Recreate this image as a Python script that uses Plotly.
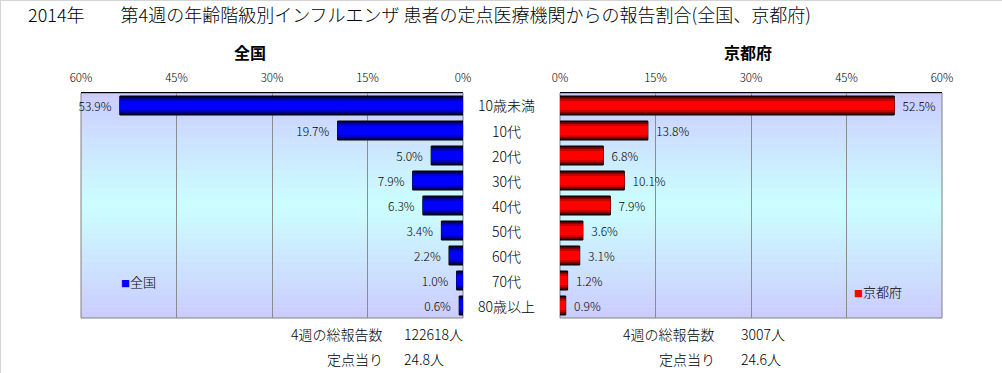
import plotly.graph_objects as go

# ---------------- data ----------------
categories = ["10歳未満", "10代", "20代", "30代", "40代", "50代", "60代", "70代", "80歳以上"]
zenkoku = [53.9, 19.7, 5.0, 7.9, 6.3, 3.4, 2.2, 1.0, 0.6]
kyoto = [52.5, 13.8, 6.8, 10.1, 7.9, 3.6, 3.1, 1.2, 0.9]
tick_vals = [0, 15, 30, 45, 60]
tick_text = ["0%", "15%", "30%", "45%", "60%"]
title_text = "2014年\u3000\u3000第4週の年齢階級別インフルエンザ 患者の定点医療機関からの報告割合(全国、京都府)"
series_names = ["全国", "京都府"]
total_label = "4週の総報告数"
per_label = "定点当り"
zenkoku_total = "122618人"
zenkoku_per = "24.8人"
kyoto_total = "3007人"
kyoto_per = "24.6人"

# ---------------- layout helpers ----------------
W, H = 1002, 373
FONT = "Noto Sans CJK JP"


def px(x):
    return x / W


def py(y):
    return 1 - y / H


L_DOM = [px(81), px(463)]
R_DOM = [px(560), px(942)]
Y_DOM = [py(318), py(93)]

fig = go.Figure()

blue_layers = [(0.76, "#000038"), (0.64, "#000088"), (0.52, "#0000c8"), (0.36, "#0000ff")]
red_layers = [(0.76, "#380000"), (0.64, "#880000"), (0.52, "#c80000"), (0.36, "#ff0000")]

for i, (w, c) in enumerate(blue_layers):
    fig.add_trace(go.Bar(
        y=categories, x=zenkoku, orientation="h", width=w,
        marker=dict(color=c, line=dict(color="black", width=1 if i == 0 else 0)),
        text=[f"{v:.1f}%\u00a0\u00a0" for v in zenkoku] if i == 0 else None,
        textposition="outside" if i == 0 else "none",
        textfont=dict(family=FONT, size=12, color="black", weight=300),
        constraintext="none", cliponaxis=False,
        xaxis="x", yaxis="y", showlegend=False, hoverinfo="skip" if i else "x+y",
        name=series_names[0],
    ))

for i, (w, c) in enumerate(red_layers):
    fig.add_trace(go.Bar(
        y=categories, x=kyoto, orientation="h", width=w,
        marker=dict(color=c, line=dict(color="black", width=1 if i == 0 else 0)),
        text=[f"\u00a0\u00a0{v:.1f}%" for v in kyoto] if i == 0 else None,
        textposition="outside" if i == 0 else "none",
        textfont=dict(family=FONT, size=12, color="black", weight=300),
        constraintext="none", cliponaxis=False,
        xaxis="x2", yaxis="y2", showlegend=False, hoverinfo="skip" if i else "x+y",
        name=series_names[1],
    ))

# ---------------- background gradients (styling) ----------------
shapes = []
top_c = (204, 204, 255)
mid_c = (204, 255, 255)
N = 40
for xr, yr in (("x domain", "y domain"), ("x2 domain", "y2 domain")):
    for k in range(N):
        t = (k + 0.5) / N
        f = 1 - abs(t - 0.5) * 2  # 0 at edges, 1 in middle
        col = tuple(round(top_c[j] + (mid_c[j] - top_c[j]) * f) for j in range(3))
        shapes.append(dict(type="rect", xref=xr, yref=yr, x0=0, x1=1,
                           y0=1 - (k + 1) / N, y1=1 - k / N + 0.002,
                           fillcolor=f"rgb{col}", line=dict(width=0), layer="below"))
    shapes.append(dict(type="rect", xref=xr, yref=yr, x0=0, x1=1, y0=0, y1=1,
                       fillcolor="rgba(0,0,0,0)", line=dict(color="#808080", width=1),
                       layer="below"))

# outer frame lines (top and left)
shapes.append(dict(type="line", xref="paper", yref="paper", x0=0, x1=1, y0=1, y1=1,
                   line=dict(color="#d4d4d4", width=2)))
shapes.append(dict(type="line", xref="paper", yref="paper", x0=0, x1=0, y0=0, y1=1,
                   line=dict(color="#d4d4d4", width=2)))

# ---------------- annotations ----------------
ann = []
ann.append(dict(text=title_text, xref="paper", yref="paper", x=px(26), y=py(14),
                xanchor="left", yanchor="middle", showarrow=False,
                font=dict(family=FONT, size=18, color="black", weight=300)))
ann.append(dict(text="<b>全国</b>", xref="paper", yref="paper", x=px(250), y=py(52),
                xanchor="center", yanchor="middle", showarrow=False,
                font=dict(family=FONT, size=16, color="black")))
ann.append(dict(text="<b>京都府</b>", xref="paper", yref="paper", x=px(748), y=py(52),
                xanchor="center", yanchor="middle", showarrow=False,
                font=dict(family=FONT, size=16, color="black")))
for c in categories:
    ann.append(dict(text=c, xref="paper", yref="y", x=px(506), y=c,
                    xanchor="center", yanchor="middle", showarrow=False,
                    font=dict(family=FONT, size=14, color="black", weight=300)))

# legend-like labels
ann.append(dict(text="<span style='color:#0000ff;font-size:9px'>■</span>全国",
                xref="paper", yref="paper", x=px(119), y=py(281),
                xanchor="left", yanchor="middle", showarrow=False,
                font=dict(family=FONT, size=13, color="black", weight=300)))
ann.append(dict(text="<span style='color:#ff0000;font-size:9px'>■</span>京都府",
                xref="paper", yref="paper", x=px(852), y=py(291),
                xanchor="left", yanchor="middle", showarrow=False,
                font=dict(family=FONT, size=13, color="black", weight=300)))

# footer texts
ffont = dict(family=FONT, size=14, color="black", weight=300)
for xl, xv, tot, per in ((385, 402, zenkoku_total, zenkoku_per), (717, 739, kyoto_total, kyoto_per)):
    ann.append(dict(text=total_label, xref="paper", yref="paper", x=px(xl), y=py(334),
                    xanchor="right", yanchor="middle", showarrow=False, font=ffont))
    ann.append(dict(text=tot, xref="paper", yref="paper", x=px(xv), y=py(334),
                    xanchor="left", yanchor="middle", showarrow=False, font=ffont))
    ann.append(dict(text=per_label, xref="paper", yref="paper", x=px(xl), y=py(359),
                    xanchor="right", yanchor="middle", showarrow=False, font=ffont))
    ann.append(dict(text=per, xref="paper", yref="paper", x=px(xv), y=py(359),
                    xanchor="left", yanchor="middle", showarrow=False, font=ffont))

xcommon = dict(side="top", tickvals=tick_vals, ticktext=tick_text,
               showgrid=True, gridcolor="#8c8c8c", gridwidth=1, zeroline=False,
               showline=True, linecolor="black", linewidth=1,
               ticks="outside", ticklen=5, tickcolor="rgba(0,0,0,0)",
               tickfont=dict(family=FONT, size=11.5, color="black", weight=300),
               fixedrange=True, automargin=False)
ycommon = dict(type="category", categoryorder="array", categoryarray=categories,
               range=[8.5, -0.5], showticklabels=False, showgrid=False,
               zeroline=False, showline=False, domain=Y_DOM, fixedrange=True,
               automargin=False)

fig.update_layout(
    width=W, height=H, autosize=False,
    margin=dict(l=0, r=0, t=0, b=0, pad=0, autoexpand=False),
    paper_bgcolor="white", plot_bgcolor="rgba(0,0,0,0)",
    barmode="overlay",
    xaxis=dict(domain=L_DOM, range=[60, 0], anchor="y", **xcommon),
    yaxis=dict(anchor="x", **ycommon),
    xaxis2=dict(domain=R_DOM, range=[0, 60], anchor="y2", **xcommon),
    yaxis2=dict(anchor="x2", **ycommon),
    shapes=shapes,
    annotations=ann,
    font=dict(family=FONT),
    showlegend=False,
)

fig.write_html(
    "out.html",
    config={"responsive": False, "displayModeBar": False},
    post_script="document.body.style.margin='0';document.body.style.padding='0';document.body.style.overflow='hidden';",
)
